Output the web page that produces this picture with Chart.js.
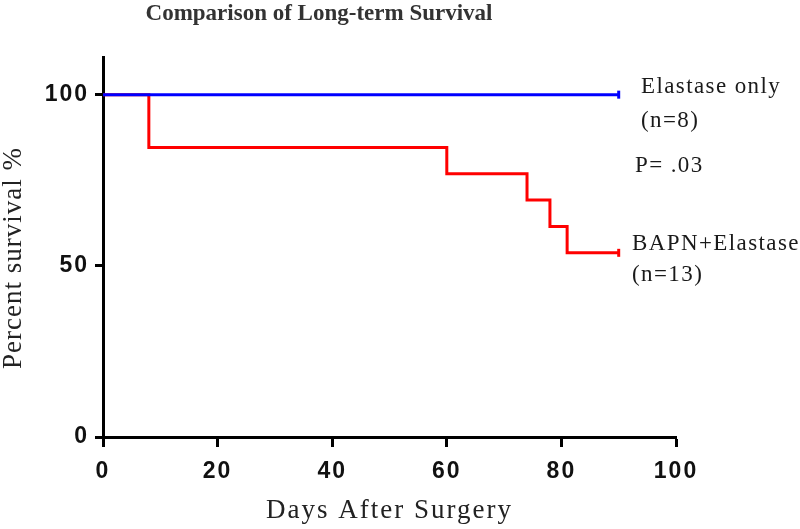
<!DOCTYPE html>
<html>
<head>
<meta charset="utf-8">
<script src="https://cdn.jsdelivr.net/npm/chart.js@4"></script>
<style>
  body { margin: 0; background: #fff; }
  #wrap { width: 800px; height: 529px; }
</style>
</head>
<body>
<div id="wrap"><canvas id="survivalChart" width="800" height="529"></canvas></div>
<script>
// Kaplan-Meier survival data
const elastaseDays = [0, 90]
const elastaseSurvival = [100, 100]
const bapnDays = [0, 8, 60, 74, 78, 81, 90]
const bapnSurvival = [100, 84.6, 76.9, 69.2, 61.5, 53.8, 53.8]
const xTicks = [0, 20, 40, 60, 80, 100]
const yTicks = [0, 50, 100]

const toPoints = (xs, ys) => xs.map((x, i) => ({ x: x, y: ys[i] }))
const lastOnly = (ctx) => ctx.dataIndex === ctx.dataset.data.length - 1 ? 4 : 0

// the original figure has wide, stretched lettering
const spacing = {
  id: 'spacing',
  beforeDraw(chart) {
    chart.ctx.letterSpacing = '2px'
  }
}

// title, y-axis label and the notes next to the curves
const notes = {
  id: 'notes',
  afterDraw(chart) {
    const c = chart.ctx
    c.save()
    c.textBaseline = 'middle'

    c.letterSpacing = '0px'
    c.fillStyle = '#333'
    c.font = 'bold 23px "Liberation Serif"'
    c.textAlign = 'center'
    c.fillText('Comparison of Long-term Survival', 319, 14)

    c.save()
    c.fillStyle = '#222'
    c.letterSpacing = '1px'
    c.font = '27px "Liberation Serif"'
    c.translate(14, 258)
    c.rotate(-Math.PI / 2)
    c.fillText('Percent survival %', 0, 0)
    c.restore()

    c.textAlign = 'left'
    c.letterSpacing = '1.4px'
    c.fillStyle = '#1a1a1a'
    c.font = '23px "Liberation Serif"'
    c.fillText('Elastase only', 641, 87)
    c.fillText('(n=8)', 641, 121)
    c.fillText('P= .03', 635, 166)
    c.fillText('BAPN+Elastase', 632, 244)
    c.fillText('(n=13)', 632, 275)
    c.restore()
  }
}

const ctx = document.getElementById('survivalChart')
new Chart(ctx, {
  type: 'line',
  data: {
    datasets: [{
      label: 'Elastase only',
      data: toPoints(elastaseDays, elastaseSurvival),
      borderColor: '#0000ff',
      borderWidth: 3,
      stepped: true,
      pointRadius: lastOnly,
      pointStyle: 'line',
      rotation: 90,
      pointBorderColor: '#0000ff',
      pointBorderWidth: 3
    }, {
      label: 'BAPN+Elastase',
      data: toPoints(bapnDays, bapnSurvival),
      borderColor: '#ff0000',
      borderWidth: 3,
      stepped: true,
      pointRadius: lastOnly,
      pointStyle: 'line',
      rotation: 90,
      pointBorderColor: '#ff0000',
      pointBorderWidth: 3
    }]
  },
  options: {
    responsive: false,
    animation: false,
    devicePixelRatio: 1,
    layout: { padding: { left: 0, right: 124, top: 57, bottom: 0 } },
    plugins: {
      legend: { display: false },
      tooltip: { enabled: false }
    },
    scales: {
      x: {
        type: 'linear',
        min: 0,
        max: 100,
        afterBuildTicks: (scale) => { scale.ticks = xTicks.map(v => ({ value: v })) },
        afterFit: (scale) => { scale.height = 92 },
        border: { color: '#000', width: 3 },
        grid: { drawOnChartArea: false, drawTicks: true, tickLength: 10, tickWidth: 3, tickColor: '#000' },
        ticks: {
          color: '#111',
          padding: 11,
          maxRotation: 0,
          font: { family: '"Liberation Sans"', size: 23, weight: 'bold' }
        },
        title: {
          display: true,
          text: 'Days After Surgery',
          color: '#222',
          font: { family: '"Liberation Serif"', size: 27 },
          padding: { top: 0, bottom: 2 }
        }
      },
      y: {
        min: 0,
        max: 111,
        afterBuildTicks: (scale) => { scale.ticks = yTicks.map(v => ({ value: v })) },
        afterFit: (scale) => { scale.width = 103 },
        border: { color: '#000', width: 3 },
        grid: { drawOnChartArea: false, drawTicks: true, tickLength: 8, tickWidth: 3, tickColor: '#000' },
        ticks: {
          color: '#111',
          padding: 6,
          font: { family: '"Liberation Sans"', size: 23, weight: 'bold' }
        }
      }
    }
  },
  plugins: [spacing, notes]
})
</script>
</body>
</html>
